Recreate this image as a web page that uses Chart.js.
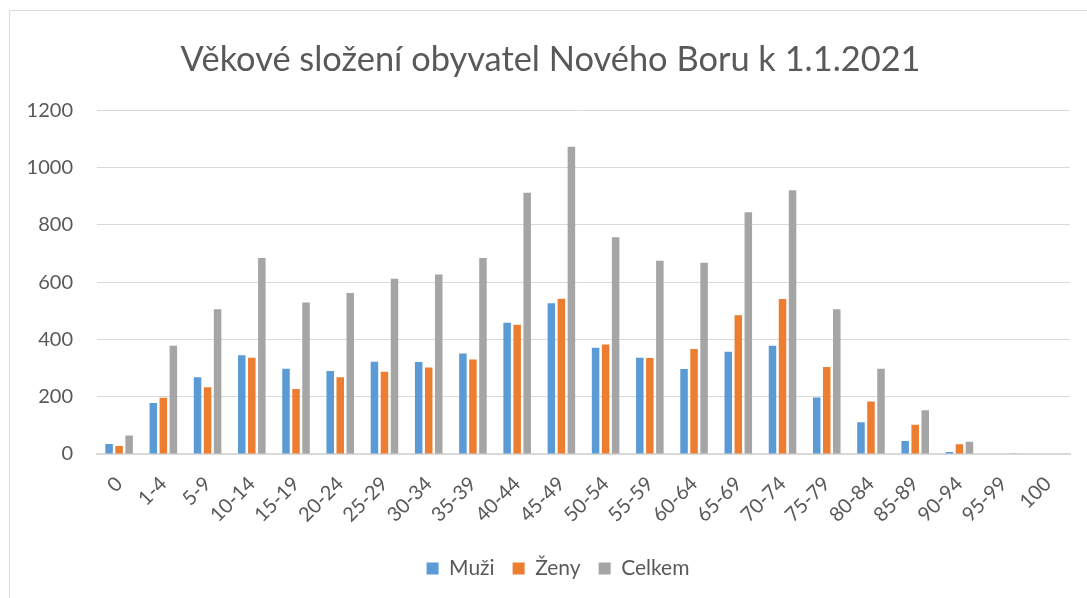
<!DOCTYPE html>
<html>
<head>
<meta charset="utf-8">
<script src="https://cdn.jsdelivr.net/npm/chart.js@4.4.1/dist/chart.umd.min.js"></script>
<style>
  html, body { margin: 0; padding: 0; background: #fff; }
  #ramecek {
    position: absolute; left: 9px; top: 10px; width: 1200px; height: 700px;
    border: 1px solid #d9d9d9; box-sizing: border-box;
  }
  #obal { position: absolute; left: 0; top: 0; width: 1087px; height: 598px; }
</style>
</head>
<body>
<div id="ramecek"></div>
<div id="obal"><canvas id="graf"></canvas></div>
<script>
// vekove skupiny
const skupiny = ["0", "1-4", "5-9", "10-14", "15-19", "20-24", "25-29", "30-34", "35-39", "40-44",
  "45-49", "50-54", "55-59", "60-64", "65-69", "70-74", "75-79", "80-84", "85-89", "90-94", "95-99", "100"];

// hodnoty
const muzi   = [35, 178, 268, 345, 298, 290, 322, 321, 351, 458, 526, 371, 336, 297, 357, 378, 197, 111, 45, 7, 0, 0];
const zeny   = [28, 196, 233, 336, 227, 268, 287, 302, 330, 451, 542, 382, 335, 367, 484, 541, 304, 183, 102, 34, 2, 0];
const celkem = [65, 378, 505, 684, 529, 562, 612, 627, 684, 912, 1073, 757, 675, 668, 844, 921, 505, 298, 153, 43, 3, 0];

const osaY = [0, 200, 400, 600, 800, 1000, 1200];

const SEDA_TEXT = "#595959";
const PISMO = "Lato, 'Open Sans', sans-serif";

// posun titulku a legendy doprava (v Excelu jsou centrovane jinak)
const posunBloku = {
  id: "posunBloku",
  afterLayout(chart) {
    chart.titleBlock.left += 31;
    chart.legend.left += 46;
  }
};

const ctx = document.getElementById("graf");

new Chart(ctx, {
  type: "bar",
  data: {
    labels: skupiny,
    datasets: [
      { label: "Muži", data: muzi, backgroundColor: "#5B9BD5" },
      { label: "Ženy", data: zeny, backgroundColor: "#ED7D31" },
      { label: "Celkem", data: celkem, backgroundColor: "#A5A5A5" }
    ]
  },
  plugins: [posunBloku],
  options: {
    responsive: true,
    maintainAspectRatio: false,
    animation: false,
    datasets: {
      bar: { barPercentage: 0.75, categoryPercentage: 0.68 }
    },
    layout: { padding: { left: 0, right: 17, top: 0, bottom: 9 } },
    plugins: {
      title: {
        display: true,
        text: "Věkové složení obyvatel Nového Boru k 1.1.2021",
        color: SEDA_TEXT,
        font: { family: PISMO, size: 34.4, weight: "normal", lineHeight: 1.2 },
        padding: { top: 39, bottom: 30 }
      },
      legend: {
        position: "bottom",
        labels: {
          color: SEDA_TEXT,
          font: { family: PISMO, size: 21 },
          boxWidth: 12,
          boxHeight: 12,
          padding: 18
        }
      },
      tooltip: { enabled: false }
    },
    scales: {
      x: {
        grid: { display: false },
        border: { color: "#d9d9d9", width: 2 },
        ticks: {
          color: SEDA_TEXT,
          font: { family: PISMO, size: 20 },
          minRotation: 45,
          maxRotation: 45,
          autoSkip: false,
          padding: 10
        },
        afterFit: (scale) => { scale.height = 86; }
      },
      y: {
        min: 0,
        max: 1200,
        afterBuildTicks: (scale) => { scale.ticks = osaY.map(v => ({ value: v })); },
        grid: { color: "#d9d9d9", lineWidth: 1, drawTicks: false },
        border: { display: false },
        ticks: {
          color: SEDA_TEXT,
          font: { family: PISMO, size: 20 },
          padding: 24,
          callback: (v) => String(v)
        },
        afterFit: (scale) => { scale.width = 97; }
      }
    }
  }
});
</script>
</body>
</html>
